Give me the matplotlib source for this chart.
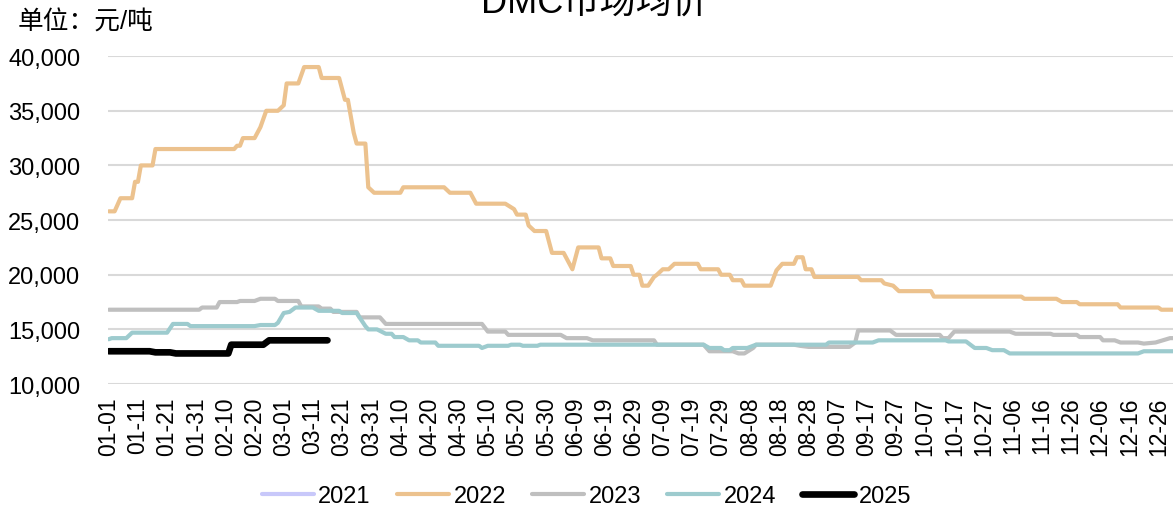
import matplotlib
matplotlib.use('Agg')
import matplotlib.pyplot as plt
import pandas as pd

# Day of year (leap year axis, 0 = 01-01) and price in yuan/ton
days_2021 = []
price_2021 = []

days_2022 = [0, 2, 4, 8, 9, 10, 11, 15, 16, 43,
             44, 45, 46, 50, 52, 54, 58, 60, 61, 65,
             67, 72, 73, 79, 81, 82, 84, 85, 88, 89,
             91, 100, 101, 115, 117, 124, 126, 136, 139, 140,
             143, 144, 146, 150, 152, 156, 159, 161, 168, 169,
             172, 173, 179, 180, 182, 183, 185, 187, 188, 190,
             192, 194, 202, 203, 209, 210, 213, 214, 217, 218,
             227, 229, 231, 235, 236, 238, 239, 241, 242, 257,
             258, 265, 266, 269, 271, 282, 283, 313, 314, 325,
             327, 332, 333, 346, 347, 360, 361, 365]
price_2022 = [25800, 25800, 27000, 27000, 28500, 28500, 30000, 30000, 31500, 31500,
              31800, 31800, 32500, 32500, 33500, 35000, 35000, 35500, 37500, 37500,
              39000, 39000, 38000, 38000, 36000, 36000, 33000, 32000, 32000, 28000,
              27500, 27500, 28000, 28000, 27500, 27500, 26500, 26500, 26000, 25500,
              25500, 24500, 24000, 24000, 22000, 22000, 20500, 22500, 22500, 21500,
              21500, 20800, 20800, 20000, 20000, 19000, 19000, 19800, 20000, 20500,
              20500, 21000, 21000, 20500, 20500, 20000, 20000, 19500, 19500, 19000,
              19000, 20400, 21000, 21000, 21600, 21600, 20500, 20500, 19800, 19800,
              19500, 19500, 19200, 19000, 18500, 18500, 18000, 18000, 17800, 17800,
              17500, 17500, 17300, 17300, 17000, 17000, 16800, 16800]

days_2023 = [0, 31, 32, 37, 38, 44, 45, 50, 52, 57,
             58, 65, 66, 72, 73, 76, 77, 85, 86, 93,
             95, 128, 130, 136, 137, 155, 157, 164, 166, 187,
             188, 204, 206, 214, 216, 218, 221, 222, 235, 237,
             240, 254, 256, 257, 268, 270, 285, 286, 288, 290,
             309, 311, 323, 324, 332, 333, 340, 341, 345, 347,
             353, 355, 359, 364, 365]
price_2023 = [16800, 16800, 17000, 17000, 17500, 17500, 17600, 17600, 17800, 17800,
              17600, 17600, 17100, 17100, 16900, 16900, 16600, 16600, 16100, 16100,
              15500, 15500, 14800, 14800, 14500, 14500, 14200, 14200, 14000, 14000,
              13600, 13600, 13000, 13000, 12800, 12800, 13300, 13600, 13600, 13500,
              13400, 13400, 13800, 14900, 14900, 14500, 14500, 14200, 14200, 14800,
              14800, 14600, 14600, 14500, 14500, 14300, 14300, 14000, 14000, 13800,
              13800, 13700, 13800, 14200, 14200]

days_2024 = [0, 1, 6, 8, 20, 22, 27, 28, 50, 52,
             57, 58, 60, 62, 64, 70, 72, 79, 80, 85,
             88, 89, 92, 95, 97, 98, 101, 103, 106, 107,
             112, 113, 127, 128, 130, 137, 138, 141, 142, 147,
             148, 204, 206, 210, 211, 213, 214, 219, 222, 246,
             247, 262, 264, 287, 288, 294, 297, 301, 303, 307,
             309, 353, 355, 365]
price_2024 = [14100, 14200, 14200, 14700, 14700, 15500, 15500, 15300, 15300, 15400,
              15400, 15600, 16500, 16600, 17000, 17000, 16700, 16700, 16500, 16500,
              15300, 15000, 15000, 14600, 14600, 14300, 14300, 14000, 14000, 13800,
              13800, 13500, 13500, 13300, 13500, 13500, 13600, 13600, 13500, 13500,
              13600, 13600, 13300, 13300, 13100, 13100, 13300, 13300, 13600, 13600,
              13800, 13800, 14000, 14000, 13900, 13900, 13300, 13300, 13100, 13100,
              12800, 12800, 13000, 13000]

days_2025 = [0, 14, 16, 21, 23, 41, 42, 53, 55, 75]
price_2025 = [13000, 13000, 12900, 12900, 12800, 12800, 13600, 13600, 14000, 14000]

years = ['2021', '2022', '2023', '2024', '2025']
colors = ['#c8c8fa', '#ecc28e', '#bfbfbf', '#9dcbce', '#000000']
widths = [3, 3, 3, 3, 4.8]

# x tick labels every 10 days, on a leap year calendar
tick_days = list(range(0, 361, 10))
tick_labels = [d.strftime('%m-%d') for d in pd.date_range('2024-01-01', '2024-12-31')[tick_days]]

plt.rcParams['font.family'] = ['Liberation Sans', 'Noto Sans CJK SC', 'DejaVu Sans']

fig = plt.figure(figsize=(11.73, 5.10), dpi=100)
ax = fig.add_axes([0.092, 0.245, 0.908, 0.643])

series = [(days_2021, price_2021), (days_2022, price_2022), (days_2023, price_2023),
          (days_2024, price_2024), (days_2025, price_2025)]
for (d, p), year, c, w in zip(series, years, colors, widths):
    ax.plot(d, p, color=c, linewidth=w, label=year, solid_capstyle='round', solid_joinstyle='round')

ax.set_ylim(10000, 40000)
ax.set_yticks(range(10000, 40001, 5000))
ax.set_yticklabels([f'{v:,}' for v in range(10000, 40001, 5000)], fontsize=17)
ax.set_xlim(-0.3, 365)
ax.set_xticks(tick_days)
ax.set_xticklabels(tick_labels, rotation=90, fontsize=16.5)
ax.tick_params(length=0, pad=9)
ax.tick_params(axis='y', pad=20)
ax.yaxis.grid(True, color='#d9d9d9', linewidth=1.5)
ax.set_axisbelow(True)
for s in ax.spines.values():
    s.set_visible(False)

fig.text(0.507, 0.994, 'DMC市场均价', fontsize=26, ha='center', va='center')
fig.text(0.015, 0.955, '单位：元/吨', fontsize=18.5, ha='left', va='center')

fig.legend(loc='center', bbox_to_anchor=(0.5, 1 - 497 / 510), ncol=5, frameon=False,
           fontsize=17, handlelength=2.2, handletextpad=0.2, columnspacing=1.1)

fig.savefig('out.png', dpi=100)
